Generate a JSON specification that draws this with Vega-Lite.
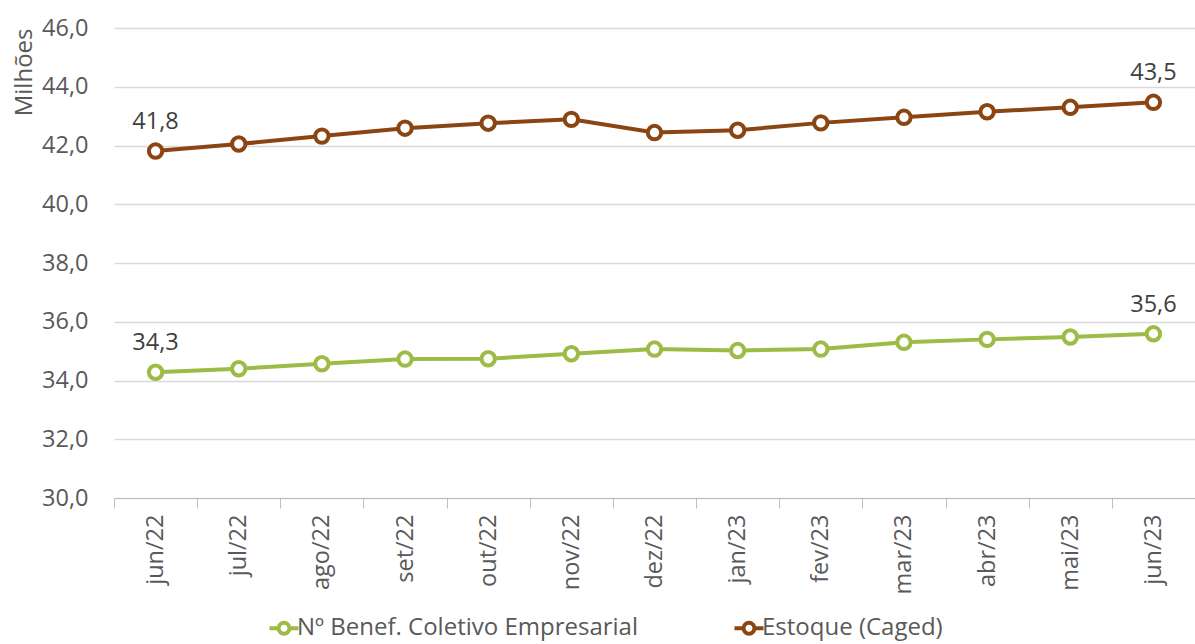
{
  "$schema": "https://vega.github.io/schema/vega-lite/v6.json",
  "width": 1081,
  "height": 470,
  "autosize": {"type": "none"},
  "padding": {"left": 114, "top": 28, "right": 0, "bottom": 146},
  "background": "white",
  "config": {
    "locale": {"number": {"decimal": ",", "thousands": ".", "grouping": [3], "currency": ["R$", ""]}},
    "font": "Open Sans",
    "view": {"stroke": null},
    "axis": {"labelFont": "Open Sans", "titleFont": "Open Sans", "labelColor": "#595959", "titleColor": "#595959"}
  },
  "data": {
    "values": [
      {"mes": "jun/22", "serie": "Nº Benef. Coletivo Empresarial", "valor": 34.28},
      {"mes": "jul/22", "serie": "Nº Benef. Coletivo Empresarial", "valor": 34.40},
      {"mes": "ago/22", "serie": "Nº Benef. Coletivo Empresarial", "valor": 34.57},
      {"mes": "set/22", "serie": "Nº Benef. Coletivo Empresarial", "valor": 34.73},
      {"mes": "out/22", "serie": "Nº Benef. Coletivo Empresarial", "valor": 34.74},
      {"mes": "nov/22", "serie": "Nº Benef. Coletivo Empresarial", "valor": 34.91},
      {"mes": "dez/22", "serie": "Nº Benef. Coletivo Empresarial", "valor": 35.07},
      {"mes": "jan/23", "serie": "Nº Benef. Coletivo Empresarial", "valor": 35.02},
      {"mes": "fev/23", "serie": "Nº Benef. Coletivo Empresarial", "valor": 35.07},
      {"mes": "mar/23", "serie": "Nº Benef. Coletivo Empresarial", "valor": 35.30},
      {"mes": "abr/23", "serie": "Nº Benef. Coletivo Empresarial", "valor": 35.40},
      {"mes": "mai/23", "serie": "Nº Benef. Coletivo Empresarial", "valor": 35.48},
      {"mes": "jun/23", "serie": "Nº Benef. Coletivo Empresarial", "valor": 35.59},
      {"mes": "jun/22", "serie": "Estoque (Caged)", "valor": 41.81},
      {"mes": "jul/22", "serie": "Estoque (Caged)", "valor": 42.05},
      {"mes": "ago/22", "serie": "Estoque (Caged)", "valor": 42.32},
      {"mes": "set/22", "serie": "Estoque (Caged)", "valor": 42.59},
      {"mes": "out/22", "serie": "Estoque (Caged)", "valor": 42.76},
      {"mes": "nov/22", "serie": "Estoque (Caged)", "valor": 42.89},
      {"mes": "dez/22", "serie": "Estoque (Caged)", "valor": 42.44},
      {"mes": "jan/23", "serie": "Estoque (Caged)", "valor": 42.52},
      {"mes": "fev/23", "serie": "Estoque (Caged)", "valor": 42.77},
      {"mes": "mar/23", "serie": "Estoque (Caged)", "valor": 42.96},
      {"mes": "abr/23", "serie": "Estoque (Caged)", "valor": 43.15},
      {"mes": "mai/23", "serie": "Estoque (Caged)", "valor": 43.30},
      {"mes": "jun/23", "serie": "Estoque (Caged)", "valor": 43.47}
    ]
  },
  "encoding": {
    "x": {
      "field": "mes", "type": "nominal", "sort": null, "bandPosition": 0.5,
      "scale": {"type": "band", "paddingInner": 0, "paddingOuter": 0},
      "axis": {"title": null, "labelAngle": -90, "labelFontSize": 23.5, "labelPadding": 6,
               "tickBand": "extent", "tickSize": 10, "tickColor": "#bfbfbf", "domainColor": "#bfbfbf",
               "labelBaseline": "middle", "labelAlign": "right"}
    },
    "y": {
      "field": "valor", "type": "quantitative",
      "scale": {"domain": [30, 46]},
      "axis": {"title": "Milhões", "titleFontSize": 24, "titleFontWeight": "normal", "titleAnchor": "end",
               "titlePadding": 5, "values": [30, 32, 34, 36, 38, 40, 42, 44, 46], "format": ".1f",
               "labelFontSize": 23.5, "labelPadding": 26, "domain": false, "ticks": false,
               "gridColor": "#d9d9d9", "gridWidth": 1.3}
    },
    "color": {
      "field": "serie", "type": "nominal",
      "scale": {"domain": ["Nº Benef. Coletivo Empresarial", "Estoque (Caged)"], "range": ["#9dbb47", "#8b4513"]},
      "legend": {"title": null, "orient": "none", "legendX": 158, "legendY": 588, "direction": "horizontal",
                 "labelFontSize": 24, "labelColor": "#595959", "labelFont": "Open Sans",
                 "symbolType": "M -1.6 0 L -0.6 0 M 0.6 0 L 1.6 0 M -0.6 0 A 0.6 0.6 0 1 0 0.6 0 A 0.6 0.6 0 1 0 -0.6 0",
                 "symbolSize": 330, "symbolStrokeWidth": 4, "symbolFillColor": "white",
                 "columnPadding": 88, "labelOffset": 1, "labelLimit": 400}
    }
  },
  "layer": [
    {"mark": {"type": "line", "strokeWidth": 4}},
    {"mark": {"type": "point", "filled": false, "fill": "white", "size": 180, "strokeWidth": 4, "opacity": 1}},
    {
      "transform": [{"filter": "datum.mes === 'jun/22' || datum.mes === 'jun/23'"}],
      "mark": {"type": "text", "dy": -29, "fontSize": 23.5, "font": "Open Sans"},
      "encoding": {"text": {"field": "valor", "type": "quantitative", "format": ".1f"}, "color": {"value": "#404040"}}
    }
  ]
}
